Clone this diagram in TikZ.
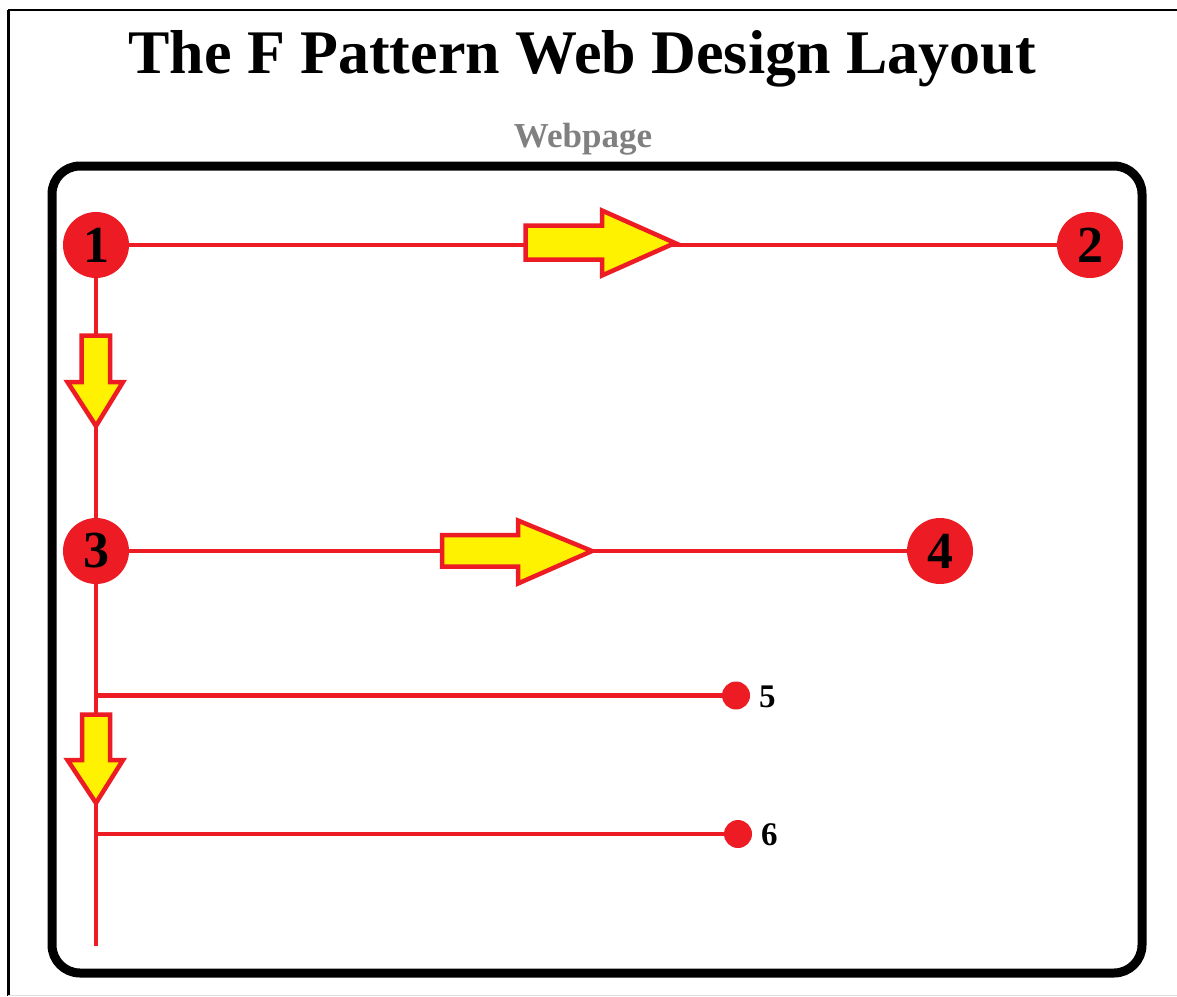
\documentclass[tikz,border=0pt]{standalone}
\usepackage{fontspec}
\setmainfont{Liberation Serif}
\definecolor{pred}{RGB}{237,28,36}
\definecolor{pyel}{RGB}{255,242,0}
\definecolor{pgray}{RGB}{128,128,128}
\begin{document}
\begin{tikzpicture}[x=1pt,y=-1pt,
  bignum/.style={circle,fill=pred,minimum size=66pt,inner sep=0pt,
    font=\fontsize{52}{52}\selectfont\bfseries},
  smalldot/.style={circle,fill=pred,minimum size=28pt,inner sep=0pt},
  smalllab/.style={font=\fontsize{33}{33}\selectfont\bfseries,inner sep=0pt,anchor=west},
  redline/.style={draw=pred,line width=4.5pt},
  fatarrow/.style={draw=pred,fill=pyel,line width=4.5pt,line join=miter}]
\useasboundingbox (0,0) rectangle (1177,996);
% page frame
\draw[black,line width=3pt] (8.5,9.5) -- (8.5,996);
\draw[black,line width=2pt] (8,9.5) -- (1177,9.5);
\draw[gray!25,line width=1pt] (8,995) -- (1177,995);
% title
\node[font=\fontsize{62}{62}\selectfont\bfseries,inner sep=0pt] (title) at (582,59) {The F Pattern Web Design Layout};
\node[font=\fontsize{35}{35}\selectfont\bfseries,text=pgray,inner sep=0pt] (web) at (583,139) {Webpage};
% webpage frame
\draw[black,line width=9pt,rounded corners=28pt] (52,166) rectangle (1142,973);
% nodes
\node[bignum] (n1) at (96,245) {1};
\node[bignum] (n2) at (1090,245) {2};
\node[bignum] (n3) at (96,551) {3};
\node[bignum] (n4) at (940,551) {4};
\node[smalldot] (d5) at (736,695.5) {};
\node[smalldot] (d6) at (738,834) {};
\node[smalllab] (l5) at (759,697) {5};
\node[smalllab] (l6) at (761,835) {6};
\coordinate (bot) at (96,946);
\coordinate (b5) at (96,695.5);
\coordinate (b6) at (96,834);
% connectors
\draw[redline] (n1) -- (n2);
\draw[redline] (n3) -- (n4);
\draw[redline] (n1.south) -- (n3.north);
\draw[redline] (n3.south) -- (bot);
\draw[redline] (b5) -- (d5);
\draw[redline] (b6) -- (d6);
% fat arrows
\draw[fatarrow] (525.5,225.5) -- (602,225.5) -- (602,210.5) -- (675,243) -- (602,275.5) -- (602,259.5) -- (525.5,259.5) -- cycle;
\draw[fatarrow] (442,535) -- (518,535) -- (518,520.5) -- (592,551) -- (518,583.5) -- (518,566.5) -- (442,566.5) -- cycle;
\draw[fatarrow] (81.5,335.5) -- (81.5,382) -- (67.5,382) -- (96,426) -- (123,382) -- (110,382) -- (110,335.5) -- cycle;
\draw[fatarrow] (82,714.5) -- (82,760) -- (67.5,760) -- (96,803) -- (123,760) -- (110,760) -- (110,714.5) -- cycle;
\end{tikzpicture}
\end{document}
